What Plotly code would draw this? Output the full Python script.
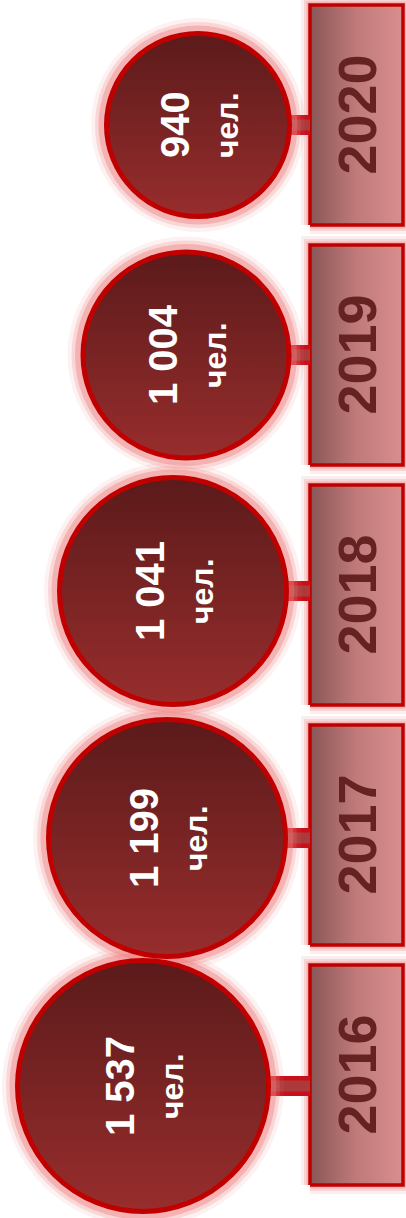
import plotly.graph_objects as go

# data
years = [2016, 2017, 2018, 2019, 2020]
people = [1537, 1199, 1041, 1004, 940]
value_labels = ['1 537', '1 199', '1 041', '1 004', '940']
unit = 'чел.'

# style / layout (pixels)
circle_d = [256, 242, 232, 211, 188]
circle_cx = [143, 167, 173, 186, 198]
circle_dy = [11, 3, -4, 0, 10]
px_per_year = 240
y_top = 2020 + 115 / px_per_year
y_bot = y_top - 1218 / px_per_year
box_x0, box_x1 = 310, 403
box_half = 110 / px_per_year
FONT = 'Arial, Liberation Sans, sans-serif'

fig = go.Figure()

# year boxes: glow, then gradient box with red frame
for yr in years:
    bx = [box_x0, box_x1, box_x1, box_x0, box_x0]
    by = [yr - box_half, yr - box_half, yr + box_half, yr + box_half, yr - box_half]
    for w, op in [(18, 0.12), (12, 0.22), (7, 0.35)]:
        fig.add_trace(go.Scatter(x=bx, y=by, mode='lines', line=dict(color='#EE7A7A', width=w),
                                 opacity=op, hoverinfo='skip', showlegend=False))
    fig.add_trace(go.Scatter(x=bx, y=by, mode='lines', fill='toself',
                             fillgradient=dict(type='horizontal',
                                               colorscale=[[0, '#8A5656'], [0.5, '#C07A7A'], [1, '#D98E8E']]),
                             line=dict(color='#C00000', width=3.5),
                             hoverinfo='skip', showlegend=False))

# connectors circle -> box
for i, yr in enumerate(years):
    cy = yr - circle_dy[i] / px_per_year
    xs = [circle_cx[i] + circle_d[i] / 2 - 6, box_x0]
    fig.add_trace(go.Scatter(x=xs, y=[cy, cy], mode='lines', line=dict(color='#C8101A', width=20),
                             hoverinfo='skip', showlegend=False))
    fig.add_trace(go.Scatter(x=xs, y=[cy, cy], mode='lines', line=dict(color='#AC3A3A', width=11),
                             hoverinfo='skip', showlegend=False))

cys = [yr - circle_dy[i] / px_per_year for i, yr in enumerate(years)]

# circle glow
for extra, op in [(26, 0.1), (18, 0.22), (11, 0.4)]:
    fig.add_trace(go.Scatter(x=circle_cx, y=cys, mode='markers',
                             marker=dict(size=[d + extra for d in circle_d], color='#EE7A7A',
                                         opacity=op, line=dict(width=0)),
                             hoverinfo='skip', showlegend=False))

# circles
fig.add_trace(go.Scatter(x=circle_cx, y=cys, mode='markers',
                         marker=dict(size=[d - 5 for d in circle_d], color='#5B1A1A', opacity=1,
                                     gradient=dict(type='vertical', color='#982D2D'),
                                     line=dict(color='#C00000', width=5)),
                         customdata=people, hovertemplate='%{customdata}<extra></extra>',
                         showlegend=False))

for i, yr in enumerate(years):
    fig.add_annotation(x=circle_cx[i] - 23, y=cys[i], xref='x', yref='y', text=value_labels[i],
                       textangle=-90, showarrow=False,
                       font=dict(family=FONT, size=40, color='white', weight='bold'))
    fig.add_annotation(x=circle_cx[i] + 29, y=cys[i], xref='x', yref='y', text=unit,
                       textangle=-90, showarrow=False,
                       font=dict(family=FONT, size=32, color='white', weight='bold'))
    fig.add_annotation(x=(box_x0 + box_x1) / 2, y=yr, xref='x', yref='y', text=str(yr),
                       textangle=-90, showarrow=False,
                       font=dict(family=FONT, size=54, color='#652222', weight='bold'))

fig.update_layout(width=406, height=1218, margin=dict(l=0, r=0, t=0, b=0),
                  plot_bgcolor='white', paper_bgcolor='white',
                  xaxis=dict(range=[0, 406], visible=False, fixedrange=True),
                  yaxis=dict(range=[y_bot, y_top], visible=False, fixedrange=True))

fig.write_html("out.html", config={'displayModeBar': False},
               post_script="document.body.style.margin='0';document.body.style.overflow='hidden';")
